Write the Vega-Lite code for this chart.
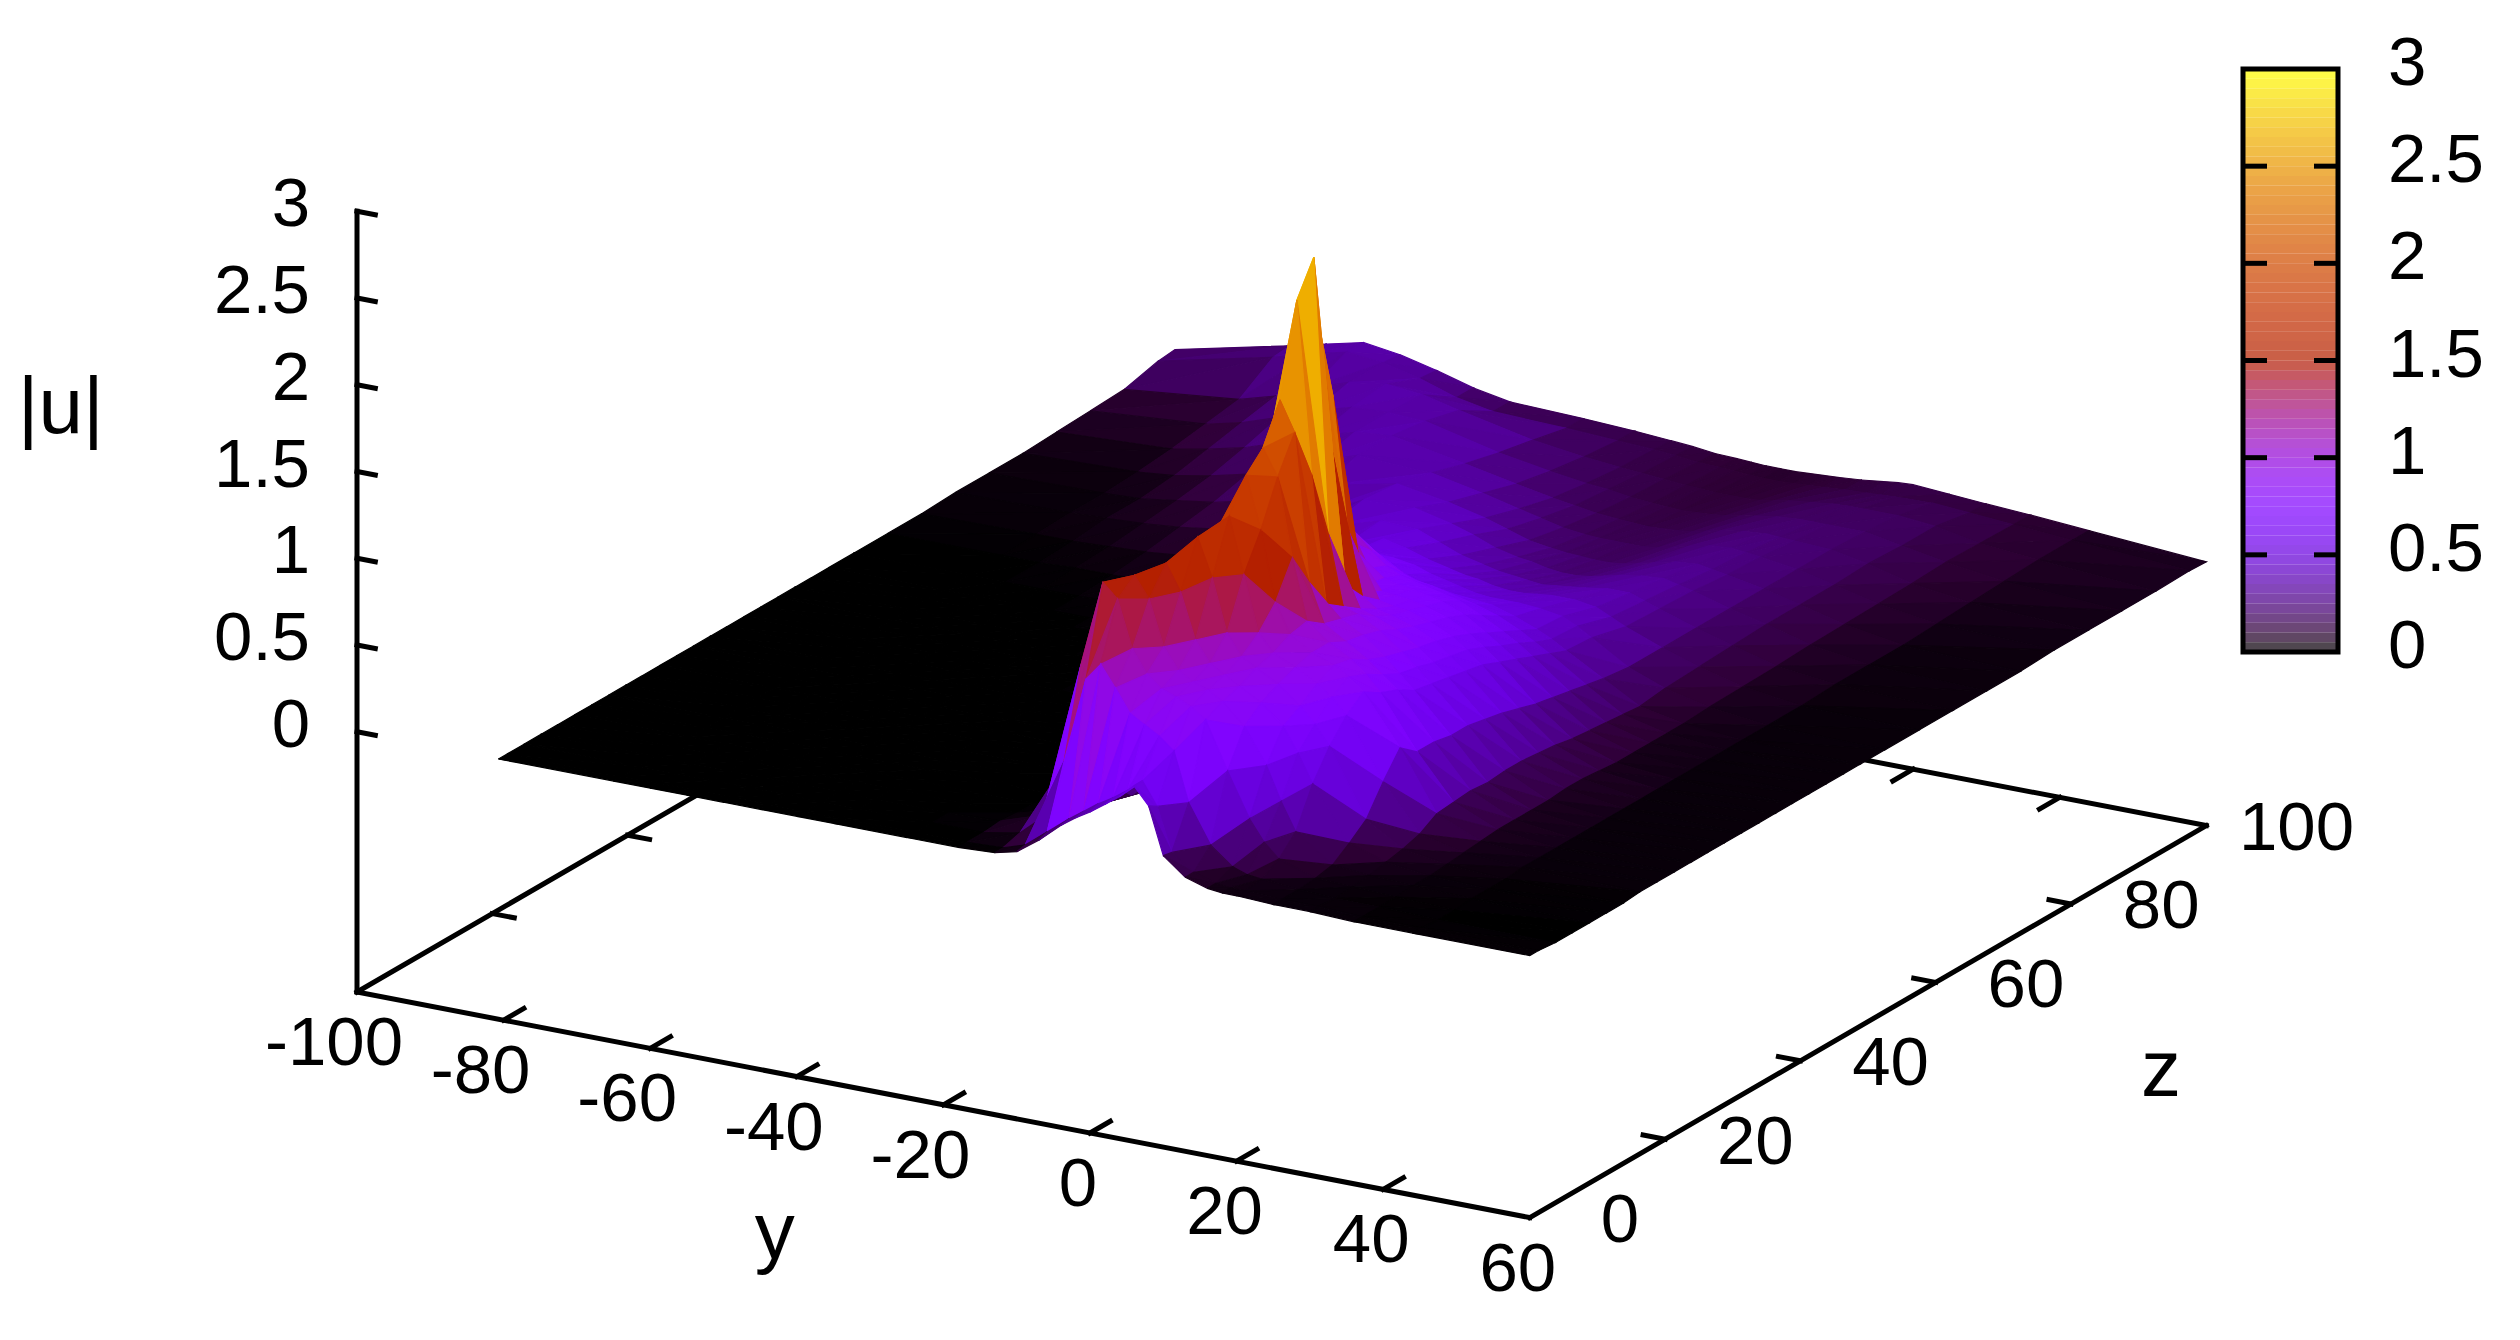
{"$schema":"https://vega.github.io/schema/vega-lite/v6.json","width":2520,"height":1340,"padding":0,"autosize":{"type":"fit","contains":"padding"},"background":"white","config":{"view":{"stroke":null}},
"datasets":{
"frame":[{"y":-100,"z":0,"u":-1.5,"y2":60,"z2":0,"u2":-1.5},{"y":60,"z":0,"u":-1.5,"y2":60,"z2":100,"u2":-1.5},{"y":60,"z":100,"u":-1.5,"y2":-100,"z2":100,"u2":-1.5},{"y":-100,"z":100,"u":-1.5,"y2":-100,"z2":0,"u2":-1.5},{"y":-100,"z":0,"u":-1.5,"y2":-100,"z2":0,"u2":3},
{"y":-80,"z":0,"u":-1.5,"y2":-80,"z2":3,"u2":-1.5},{"y":-60,"z":0,"u":-1.5,"y2":-60,"z2":3,"u2":-1.5},{"y":-40,"z":0,"u":-1.5,"y2":-40,"z2":3,"u2":-1.5},{"y":-20,"z":0,"u":-1.5,"y2":-20,"z2":3,"u2":-1.5},{"y":0,"z":0,"u":-1.5,"y2":0,"z2":3,"u2":-1.5},{"y":20,"z":0,"u":-1.5,"y2":20,"z2":3,"u2":-1.5},{"y":40,"z":0,"u":-1.5,"y2":40,"z2":3,"u2":-1.5},
{"y":-80,"z":100,"u":-1.5,"y2":-80,"z2":97,"u2":-1.5},{"y":-60,"z":100,"u":-1.5,"y2":-60,"z2":97,"u2":-1.5},{"y":-40,"z":100,"u":-1.5,"y2":-40,"z2":97,"u2":-1.5},{"y":-20,"z":100,"u":-1.5,"y2":-20,"z2":97,"u2":-1.5},{"y":0,"z":100,"u":-1.5,"y2":0,"z2":97,"u2":-1.5},{"y":20,"z":100,"u":-1.5,"y2":20,"z2":97,"u2":-1.5},{"y":40,"z":100,"u":-1.5,"y2":40,"z2":97,"u2":-1.5},
{"y":60,"z":20,"u":-1.5,"y2":57,"z2":20,"u2":-1.5},{"y":60,"z":40,"u":-1.5,"y2":57,"z2":40,"u2":-1.5},{"y":60,"z":60,"u":-1.5,"y2":57,"z2":60,"u2":-1.5},{"y":60,"z":80,"u":-1.5,"y2":57,"z2":80,"u2":-1.5},
{"y":-100,"z":20,"u":-1.5,"y2":-97,"z2":20,"u2":-1.5},{"y":-100,"z":40,"u":-1.5,"y2":-97,"z2":40,"u2":-1.5},{"y":-100,"z":60,"u":-1.5,"y2":-97,"z2":60,"u2":-1.5},{"y":-100,"z":80,"u":-1.5,"y2":-97,"z2":80,"u2":-1.5},
{"y":-100,"z":0,"u":0,"y2":-97.5,"z2":0,"u2":0},{"y":-100,"z":0,"u":0.5,"y2":-97.5,"z2":0,"u2":0.5},{"y":-100,"z":0,"u":1,"y2":-97.5,"z2":0,"u2":1},{"y":-100,"z":0,"u":1.5,"y2":-97.5,"z2":0,"u2":1.5},{"y":-100,"z":0,"u":2,"y2":-97.5,"z2":0,"u2":2},{"y":-100,"z":0,"u":2.5,"y2":-97.5,"z2":0,"u2":2.5},{"y":-100,"z":0,"u":3,"y2":-97.5,"z2":0,"u2":3}],
"surface":[
{"y":-80.7,"z":100,"u":0.1},{"y":-65,"z":100,"u":0.25},{"y":-60,"z":100,"u":0.3},{"y":-55,"z":100,"u":0.35},{"y":-50,"z":100,"u":0.32},{"y":-45,"z":100,"u":0.27},{"y":-40,"z":100,"u":0.21},{"y":-35,"z":100,"u":0.17},{"y":-25,"z":100,"u":0.155},{"y":-18,"z":100,"u":0.14},{"y":-13,"z":100,"u":0.125},{"y":-10,"z":100,"u":0.115},{"y":-7,"z":100,"u":0.1},{"y":-4,"z":100,"u":0.095},{"y":-2,"z":100,"u":0.09},{"y":0,"z":100,"u":0.085},{"y":2,"z":100,"u":0.085},{"y":4,"z":100,"u":0.085},{"y":6,"z":100,"u":0.09},{"y":8,"z":100,"u":0.095},{"y":10,"z":100,"u":0.1},{"y":13,"z":100,"u":0.11},{"y":16,"z":100,"u":0.125},{"y":18,"z":100,"u":0.135},{"y":20,"z":100,"u":0.14},{"y":25,"z":100,"u":0.125},{"y":30,"z":100,"u":0.11},{"y":36,"z":100,"u":0.095},{"y":44,"z":100,"u":0.07},{"y":60,"z":100,"u":0.02},
{"y":-80.7,"z":97.5,"u":0.09},{"y":-65,"z":97.5,"u":0.24},{"y":-60,"z":97.5,"u":0.3},{"y":-55,"z":97.5,"u":0.35},{"y":-50,"z":97.5,"u":0.33},{"y":-45,"z":97.5,"u":0.28},{"y":-40,"z":97.5,"u":0.21},{"y":-35,"z":97.5,"u":0.17},{"y":-25,"z":97.5,"u":0.155},{"y":-18,"z":97.5,"u":0.14},{"y":-13,"z":97.5,"u":0.13},{"y":-10,"z":97.5,"u":0.12},{"y":-7,"z":97.5,"u":0.105},{"y":-4,"z":97.5,"u":0.1},{"y":-2,"z":97.5,"u":0.095},{"y":0,"z":97.5,"u":0.09},{"y":2,"z":97.5,"u":0.085},{"y":4,"z":97.5,"u":0.085},{"y":6,"z":97.5,"u":0.09},{"y":8,"z":97.5,"u":0.095},{"y":10,"z":97.5,"u":0.1},{"y":13,"z":97.5,"u":0.11},{"y":16,"z":97.5,"u":0.115},{"y":18,"z":97.5,"u":0.12},{"y":20,"z":97.5,"u":0.125},{"y":25,"z":97.5,"u":0.13},{"y":30,"z":97.5,"u":0.115},{"y":36,"z":97.5,"u":0.095},{"y":44,"z":97.5,"u":0.07},{"y":60,"z":97.5,"u":0.025},
{"y":-80.7,"z":92.5,"u":0.04},{"y":-65,"z":92.5,"u":0.11},{"y":-60,"z":92.5,"u":0.17},{"y":-55,"z":92.5,"u":0.26},{"y":-50,"z":92.5,"u":0.33},{"y":-45,"z":92.5,"u":0.36},{"y":-40,"z":92.5,"u":0.34},{"y":-35,"z":92.5,"u":0.29},{"y":-25,"z":92.5,"u":0.2},{"y":-18,"z":92.5,"u":0.16},{"y":-13,"z":92.5,"u":0.14},{"y":-10,"z":92.5,"u":0.13},{"y":-7,"z":92.5,"u":0.12},{"y":-4,"z":92.5,"u":0.11},{"y":-2,"z":92.5,"u":0.105},{"y":0,"z":92.5,"u":0.1},{"y":2,"z":92.5,"u":0.1},{"y":4,"z":92.5,"u":0.1},{"y":6,"z":92.5,"u":0.105},{"y":8,"z":92.5,"u":0.12},{"y":10,"z":92.5,"u":0.135},{"y":13,"z":92.5,"u":0.15},{"y":16,"z":92.5,"u":0.165},{"y":18,"z":92.5,"u":0.17},{"y":20,"z":92.5,"u":0.17},{"y":25,"z":92.5,"u":0.17},{"y":30,"z":92.5,"u":0.15},{"y":36,"z":92.5,"u":0.1},{"y":44,"z":92.5,"u":0.07},{"y":60,"z":92.5,"u":0.02},
{"y":-80.7,"z":87.5,"u":0.03},{"y":-65,"z":87.5,"u":0.08},{"y":-60,"z":87.5,"u":0.13},{"y":-55,"z":87.5,"u":0.2},{"y":-50,"z":87.5,"u":0.28},{"y":-45,"z":87.5,"u":0.34},{"y":-40,"z":87.5,"u":0.35},{"y":-35,"z":87.5,"u":0.34},{"y":-25,"z":87.5,"u":0.24},{"y":-18,"z":87.5,"u":0.19},{"y":-13,"z":87.5,"u":0.16},{"y":-10,"z":87.5,"u":0.15},{"y":-7,"z":87.5,"u":0.13},{"y":-4,"z":87.5,"u":0.12},{"y":-2,"z":87.5,"u":0.115},{"y":0,"z":87.5,"u":0.11},{"y":2,"z":87.5,"u":0.115},{"y":4,"z":87.5,"u":0.12},{"y":6,"z":87.5,"u":0.13},{"y":8,"z":87.5,"u":0.145},{"y":10,"z":87.5,"u":0.16},{"y":13,"z":87.5,"u":0.18},{"y":16,"z":87.5,"u":0.19},{"y":18,"z":87.5,"u":0.19},{"y":20,"z":87.5,"u":0.19},{"y":25,"z":87.5,"u":0.19},{"y":30,"z":87.5,"u":0.15},{"y":36,"z":87.5,"u":0.105},{"y":44,"z":87.5,"u":0.06},{"y":60,"z":87.5,"u":0.02},
{"y":-80.7,"z":82.5,"u":0.02},{"y":-65,"z":82.5,"u":0.05},{"y":-60,"z":82.5,"u":0.09},{"y":-55,"z":82.5,"u":0.14},{"y":-50,"z":82.5,"u":0.21},{"y":-45,"z":82.5,"u":0.29},{"y":-40,"z":82.5,"u":0.35},{"y":-35,"z":82.5,"u":0.37},{"y":-25,"z":82.5,"u":0.29},{"y":-18,"z":82.5,"u":0.23},{"y":-13,"z":82.5,"u":0.19},{"y":-10,"z":82.5,"u":0.17},{"y":-7,"z":82.5,"u":0.15},{"y":-4,"z":82.5,"u":0.14},{"y":-2,"z":82.5,"u":0.135},{"y":0,"z":82.5,"u":0.13},{"y":2,"z":82.5,"u":0.135},{"y":4,"z":82.5,"u":0.14},{"y":6,"z":82.5,"u":0.15},{"y":8,"z":82.5,"u":0.17},{"y":10,"z":82.5,"u":0.19},{"y":13,"z":82.5,"u":0.21},{"y":16,"z":82.5,"u":0.22},{"y":18,"z":82.5,"u":0.215},{"y":20,"z":82.5,"u":0.21},{"y":25,"z":82.5,"u":0.2},{"y":30,"z":82.5,"u":0.16},{"y":36,"z":82.5,"u":0.095},{"y":44,"z":82.5,"u":0.05},{"y":60,"z":82.5,"u":0.02},
{"y":-80.7,"z":77.5,"u":0.01},{"y":-65,"z":77.5,"u":0.03},{"y":-60,"z":77.5,"u":0.05},{"y":-55,"z":77.5,"u":0.09},{"y":-50,"z":77.5,"u":0.14},{"y":-45,"z":77.5,"u":0.21},{"y":-40,"z":77.5,"u":0.3},{"y":-35,"z":77.5,"u":0.37},{"y":-25,"z":77.5,"u":0.35},{"y":-18,"z":77.5,"u":0.29},{"y":-13,"z":77.5,"u":0.24},{"y":-10,"z":77.5,"u":0.21},{"y":-7,"z":77.5,"u":0.18},{"y":-4,"z":77.5,"u":0.165},{"y":-2,"z":77.5,"u":0.16},{"y":0,"z":77.5,"u":0.16},{"y":2,"z":77.5,"u":0.16},{"y":4,"z":77.5,"u":0.16},{"y":6,"z":77.5,"u":0.17},{"y":8,"z":77.5,"u":0.19},{"y":10,"z":77.5,"u":0.21},{"y":13,"z":77.5,"u":0.24},{"y":16,"z":77.5,"u":0.25},{"y":18,"z":77.5,"u":0.24},{"y":20,"z":77.5,"u":0.23},{"y":25,"z":77.5,"u":0.2},{"y":30,"z":77.5,"u":0.15},{"y":36,"z":77.5,"u":0.09},{"y":44,"z":77.5,"u":0.04},{"y":60,"z":77.5,"u":0.02},
{"y":-80.7,"z":72.5,"u":0.01},{"y":-65,"z":72.5,"u":0.02},{"y":-60,"z":72.5,"u":0.03},{"y":-55,"z":72.5,"u":0.06},{"y":-50,"z":72.5,"u":0.09},{"y":-45,"z":72.5,"u":0.14},{"y":-40,"z":72.5,"u":0.22},{"y":-35,"z":72.5,"u":0.31},{"y":-25,"z":72.5,"u":0.4},{"y":-18,"z":72.5,"u":0.35},{"y":-13,"z":72.5,"u":0.3},{"y":-10,"z":72.5,"u":0.26},{"y":-7,"z":72.5,"u":0.22},{"y":-4,"z":72.5,"u":0.2},{"y":-2,"z":72.5,"u":0.19},{"y":0,"z":72.5,"u":0.185},{"y":2,"z":72.5,"u":0.18},{"y":4,"z":72.5,"u":0.18},{"y":6,"z":72.5,"u":0.19},{"y":8,"z":72.5,"u":0.21},{"y":10,"z":72.5,"u":0.23},{"y":13,"z":72.5,"u":0.26},{"y":16,"z":72.5,"u":0.27},{"y":18,"z":72.5,"u":0.255},{"y":20,"z":72.5,"u":0.24},{"y":25,"z":72.5,"u":0.2},{"y":30,"z":72.5,"u":0.15},{"y":36,"z":72.5,"u":0.085},{"y":44,"z":72.5,"u":0.03},{"y":60,"z":72.5,"u":0.01},
{"y":-80.7,"z":67.5,"u":0.01},{"y":-65,"z":67.5,"u":0.02},{"y":-60,"z":67.5,"u":0.03},{"y":-55,"z":67.5,"u":0.04},{"y":-50,"z":67.5,"u":0.06},{"y":-45,"z":67.5,"u":0.09},{"y":-40,"z":67.5,"u":0.14},{"y":-35,"z":67.5,"u":0.22},{"y":-25,"z":67.5,"u":0.42},{"y":-18,"z":67.5,"u":0.43},{"y":-13,"z":67.5,"u":0.38},{"y":-10,"z":67.5,"u":0.34},{"y":-7,"z":67.5,"u":0.29},{"y":-4,"z":67.5,"u":0.26},{"y":-2,"z":67.5,"u":0.25},{"y":0,"z":67.5,"u":0.23},{"y":2,"z":67.5,"u":0.22},{"y":4,"z":67.5,"u":0.22},{"y":6,"z":67.5,"u":0.23},{"y":8,"z":67.5,"u":0.25},{"y":10,"z":67.5,"u":0.27},{"y":13,"z":67.5,"u":0.29},{"y":16,"z":67.5,"u":0.3},{"y":18,"z":67.5,"u":0.28},{"y":20,"z":67.5,"u":0.26},{"y":25,"z":67.5,"u":0.2},{"y":30,"z":67.5,"u":0.15},{"y":36,"z":67.5,"u":0.08},{"y":44,"z":67.5,"u":0.03},{"y":60,"z":67.5,"u":0.01},
{"y":-80.7,"z":62.5,"u":0},{"y":-65,"z":62.5,"u":0.01},{"y":-60,"z":62.5,"u":0.01},{"y":-55,"z":62.5,"u":0.02},{"y":-50,"z":62.5,"u":0.03},{"y":-45,"z":62.5,"u":0.05},{"y":-40,"z":62.5,"u":0.09},{"y":-35,"z":62.5,"u":0.14},{"y":-25,"z":62.5,"u":0.38},{"y":-18,"z":62.5,"u":0.47},{"y":-13,"z":62.5,"u":0.46},{"y":-10,"z":62.5,"u":0.41},{"y":-7,"z":62.5,"u":0.36},{"y":-4,"z":62.5,"u":0.33},{"y":-2,"z":62.5,"u":0.31},{"y":0,"z":62.5,"u":0.3},{"y":2,"z":62.5,"u":0.29},{"y":4,"z":62.5,"u":0.28},{"y":6,"z":62.5,"u":0.29},{"y":8,"z":62.5,"u":0.3},{"y":10,"z":62.5,"u":0.31},{"y":13,"z":62.5,"u":0.33},{"y":16,"z":62.5,"u":0.33},{"y":18,"z":62.5,"u":0.3},{"y":20,"z":62.5,"u":0.27},{"y":25,"z":62.5,"u":0.2},{"y":30,"z":62.5,"u":0.14},{"y":36,"z":62.5,"u":0.07},{"y":44,"z":62.5,"u":0.03},{"y":60,"z":62.5,"u":0.01},
{"y":-80.7,"z":57.5,"u":0},{"y":-65,"z":57.5,"u":0},{"y":-60,"z":57.5,"u":0},{"y":-55,"z":57.5,"u":0.01},{"y":-50,"z":57.5,"u":0.01},{"y":-45,"z":57.5,"u":0.02},{"y":-40,"z":57.5,"u":0.05},{"y":-35,"z":57.5,"u":0.08},{"y":-25,"z":57.5,"u":0.28},{"y":-18,"z":57.5,"u":0.45},{"y":-13,"z":57.5,"u":0.52},{"y":-10,"z":57.5,"u":0.49},{"y":-7,"z":57.5,"u":0.45},{"y":-4,"z":57.5,"u":0.42},{"y":-2,"z":57.5,"u":0.4},{"y":0,"z":57.5,"u":0.39},{"y":2,"z":57.5,"u":0.37},{"y":4,"z":57.5,"u":0.36},{"y":6,"z":57.5,"u":0.36},{"y":8,"z":57.5,"u":0.37},{"y":10,"z":57.5,"u":0.38},{"y":13,"z":57.5,"u":0.38},{"y":16,"z":57.5,"u":0.36},{"y":18,"z":57.5,"u":0.32},{"y":20,"z":57.5,"u":0.28},{"y":25,"z":57.5,"u":0.2},{"y":30,"z":57.5,"u":0.13},{"y":36,"z":57.5,"u":0.065},{"y":44,"z":57.5,"u":0.02},{"y":60,"z":57.5,"u":0.01},
{"y":-80.7,"z":52.5,"u":0},{"y":-65,"z":52.5,"u":0},{"y":-60,"z":52.5,"u":0},{"y":-55,"z":52.5,"u":0},{"y":-50,"z":52.5,"u":0},{"y":-45,"z":52.5,"u":0.01},{"y":-40,"z":52.5,"u":0.02},{"y":-35,"z":52.5,"u":0.04},{"y":-25,"z":52.5,"u":0.18},{"y":-18,"z":52.5,"u":0.38},{"y":-13,"z":52.5,"u":0.55},{"y":-10,"z":52.5,"u":0.58},{"y":-7,"z":52.5,"u":0.57},{"y":-4,"z":52.5,"u":0.55},{"y":-2,"z":52.5,"u":0.52},{"y":0,"z":52.5,"u":0.5},{"y":2,"z":52.5,"u":0.48},{"y":4,"z":52.5,"u":0.46},{"y":6,"z":52.5,"u":0.45},{"y":8,"z":52.5,"u":0.45},{"y":10,"z":52.5,"u":0.45},{"y":13,"z":52.5,"u":0.44},{"y":16,"z":52.5,"u":0.42},{"y":18,"z":52.5,"u":0.38},{"y":20,"z":52.5,"u":0.33},{"y":25,"z":52.5,"u":0.2},{"y":30,"z":52.5,"u":0.12},{"y":36,"z":52.5,"u":0.06},{"y":44,"z":52.5,"u":0.02},{"y":60,"z":52.5,"u":0.01},
{"y":-80.7,"z":48.75,"u":0},{"y":-65,"z":48.75,"u":0},{"y":-60,"z":48.75,"u":0},{"y":-55,"z":48.75,"u":0},{"y":-50,"z":48.75,"u":0},{"y":-45,"z":48.75,"u":0},{"y":-40,"z":48.75,"u":0.01},{"y":-35,"z":48.75,"u":0.02},{"y":-25,"z":48.75,"u":0.08},{"y":-18,"z":48.75,"u":0.2},{"y":-13,"z":48.75,"u":0.42},{"y":-10,"z":48.75,"u":0.62},{"y":-7,"z":48.75,"u":0.68},{"y":-4,"z":48.75,"u":0.65},{"y":-2,"z":48.75,"u":0.6},{"y":0,"z":48.75,"u":0.57},{"y":2,"z":48.75,"u":0.55},{"y":4,"z":48.75,"u":0.54},{"y":6,"z":48.75,"u":0.53},{"y":8,"z":48.75,"u":0.53},{"y":10,"z":48.75,"u":0.52},{"y":13,"z":48.75,"u":0.48},{"y":16,"z":48.75,"u":0.43},{"y":18,"z":48.75,"u":0.39},{"y":20,"z":48.75,"u":0.34},{"y":25,"z":48.75,"u":0.22},{"y":30,"z":48.75,"u":0.1},{"y":36,"z":48.75,"u":0.05},{"y":44,"z":48.75,"u":0.02},{"y":60,"z":48.75,"u":0.01},
{"y":-80.7,"z":46.25,"u":0},{"y":-65,"z":46.25,"u":0},{"y":-60,"z":46.25,"u":0},{"y":-55,"z":46.25,"u":0},{"y":-50,"z":46.25,"u":0},{"y":-45,"z":46.25,"u":0},{"y":-40,"z":46.25,"u":0},{"y":-35,"z":46.25,"u":0.01},{"y":-25,"z":46.25,"u":0.05},{"y":-18,"z":46.25,"u":0.12},{"y":-13,"z":46.25,"u":0.3},{"y":-10,"z":46.25,"u":0.55},{"y":-7,"z":46.25,"u":0.8},{"y":-4,"z":46.25,"u":0.78},{"y":-2,"z":46.25,"u":0.72},{"y":0,"z":46.25,"u":0.68},{"y":2,"z":46.25,"u":0.65},{"y":4,"z":46.25,"u":0.64},{"y":6,"z":46.25,"u":0.62},{"y":8,"z":46.25,"u":0.6},{"y":10,"z":46.25,"u":0.58},{"y":13,"z":46.25,"u":0.54},{"y":16,"z":46.25,"u":0.48},{"y":18,"z":46.25,"u":0.43},{"y":20,"z":46.25,"u":0.38},{"y":25,"z":46.25,"u":0.24},{"y":30,"z":46.25,"u":0.11},{"y":36,"z":46.25,"u":0.05},{"y":44,"z":46.25,"u":0.02},{"y":60,"z":46.25,"u":0.01},
{"y":-80.7,"z":43.75,"u":0},{"y":-65,"z":43.75,"u":0},{"y":-60,"z":43.75,"u":0},{"y":-55,"z":43.75,"u":0},{"y":-50,"z":43.75,"u":0},{"y":-45,"z":43.75,"u":0},{"y":-40,"z":43.75,"u":0},{"y":-35,"z":43.75,"u":0.01},{"y":-25,"z":43.75,"u":0.03},{"y":-18,"z":43.75,"u":0.08},{"y":-13,"z":43.75,"u":0.22},{"y":-10,"z":43.75,"u":0.45},{"y":-7,"z":43.75,"u":0.82},{"y":-4,"z":43.75,"u":0.93},{"y":-2,"z":43.75,"u":0.85},{"y":0,"z":43.75,"u":0.78},{"y":2,"z":43.75,"u":0.74},{"y":4,"z":43.75,"u":0.72},{"y":6,"z":43.75,"u":0.7},{"y":8,"z":43.75,"u":0.68},{"y":10,"z":43.75,"u":0.66},{"y":13,"z":43.75,"u":0.6},{"y":16,"z":43.75,"u":0.53},{"y":18,"z":43.75,"u":0.48},{"y":20,"z":43.75,"u":0.42},{"y":25,"z":43.75,"u":0.26},{"y":30,"z":43.75,"u":0.12},{"y":36,"z":43.75,"u":0.05},{"y":44,"z":43.75,"u":0.02},{"y":60,"z":43.75,"u":0.01},
{"y":-80.7,"z":41.25,"u":0},{"y":-65,"z":41.25,"u":0},{"y":-60,"z":41.25,"u":0},{"y":-55,"z":41.25,"u":0},{"y":-50,"z":41.25,"u":0},{"y":-45,"z":41.25,"u":0},{"y":-40,"z":41.25,"u":0},{"y":-35,"z":41.25,"u":0},{"y":-25,"z":41.25,"u":0.02},{"y":-18,"z":41.25,"u":0.05},{"y":-13,"z":41.25,"u":0.15},{"y":-10,"z":41.25,"u":0.32},{"y":-7,"z":41.25,"u":0.7},{"y":-4,"z":41.25,"u":1.09},{"y":-2,"z":41.25,"u":0.95},{"y":0,"z":41.25,"u":0.82},{"y":2,"z":41.25,"u":0.78},{"y":4,"z":41.25,"u":0.76},{"y":6,"z":41.25,"u":0.75},{"y":8,"z":41.25,"u":0.73},{"y":10,"z":41.25,"u":0.71},{"y":13,"z":41.25,"u":0.66},{"y":16,"z":41.25,"u":0.58},{"y":18,"z":41.25,"u":0.52},{"y":20,"z":41.25,"u":0.46},{"y":25,"z":41.25,"u":0.28},{"y":30,"z":41.25,"u":0.13},{"y":36,"z":41.25,"u":0.05},{"y":44,"z":41.25,"u":0.02},{"y":60,"z":41.25,"u":0.01},
{"y":-80.7,"z":38.75,"u":0},{"y":-65,"z":38.75,"u":0},{"y":-60,"z":38.75,"u":0},{"y":-55,"z":38.75,"u":0},{"y":-50,"z":38.75,"u":0},{"y":-45,"z":38.75,"u":0},{"y":-40,"z":38.75,"u":0},{"y":-35,"z":38.75,"u":0},{"y":-25,"z":38.75,"u":0.01},{"y":-18,"z":38.75,"u":0.04},{"y":-13,"z":38.75,"u":0.1},{"y":-10,"z":38.75,"u":0.2},{"y":-7,"z":38.75,"u":0.5},{"y":-4,"z":38.75,"u":1},{"y":-2,"z":38.75,"u":1.25},{"y":0,"z":38.75,"u":1},{"y":2,"z":38.75,"u":0.8},{"y":4,"z":38.75,"u":0.78},{"y":6,"z":38.75,"u":0.77},{"y":8,"z":38.75,"u":0.76},{"y":10,"z":38.75,"u":0.74},{"y":13,"z":38.75,"u":0.7},{"y":16,"z":38.75,"u":0.63},{"y":18,"z":38.75,"u":0.57},{"y":20,"z":38.75,"u":0.5},{"y":25,"z":38.75,"u":0.3},{"y":30,"z":38.75,"u":0.14},{"y":36,"z":38.75,"u":0.05},{"y":44,"z":38.75,"u":0.02},{"y":60,"z":38.75,"u":0.01},
{"y":-80.7,"z":36.25,"u":0},{"y":-65,"z":36.25,"u":0},{"y":-60,"z":36.25,"u":0},{"y":-55,"z":36.25,"u":0},{"y":-50,"z":36.25,"u":0},{"y":-45,"z":36.25,"u":0},{"y":-40,"z":36.25,"u":0},{"y":-35,"z":36.25,"u":0},{"y":-25,"z":36.25,"u":0.01},{"y":-18,"z":36.25,"u":0.02},{"y":-13,"z":36.25,"u":0.07},{"y":-10,"z":36.25,"u":0.14},{"y":-7,"z":36.25,"u":0.3},{"y":-4,"z":36.25,"u":0.7},{"y":-2,"z":36.25,"u":1.15},{"y":0,"z":36.25,"u":1.44},{"y":2,"z":36.25,"u":1.1},{"y":4,"z":36.25,"u":0.82},{"y":6,"z":36.25,"u":0.8},{"y":8,"z":36.25,"u":0.78},{"y":10,"z":36.25,"u":0.77},{"y":13,"z":36.25,"u":0.73},{"y":16,"z":36.25,"u":0.67},{"y":18,"z":36.25,"u":0.61},{"y":20,"z":36.25,"u":0.54},{"y":25,"z":36.25,"u":0.33},{"y":30,"z":36.25,"u":0.16},{"y":36,"z":36.25,"u":0.06},{"y":44,"z":36.25,"u":0.02},{"y":60,"z":36.25,"u":0.01},
{"y":-80.7,"z":33.75,"u":0},{"y":-65,"z":33.75,"u":0},{"y":-60,"z":33.75,"u":0},{"y":-55,"z":33.75,"u":0},{"y":-50,"z":33.75,"u":0},{"y":-45,"z":33.75,"u":0},{"y":-40,"z":33.75,"u":0},{"y":-35,"z":33.75,"u":0},{"y":-25,"z":33.75,"u":0},{"y":-18,"z":33.75,"u":0.02},{"y":-13,"z":33.75,"u":0.05},{"y":-10,"z":33.75,"u":0.1},{"y":-7,"z":33.75,"u":0.2},{"y":-4,"z":33.75,"u":0.55},{"y":-2,"z":33.75,"u":1.15},{"y":0,"z":33.75,"u":1.85},{"y":2,"z":33.75,"u":2},{"y":4,"z":33.75,"u":1.25},{"y":6,"z":33.75,"u":0.88},{"y":8,"z":33.75,"u":0.82},{"y":10,"z":33.75,"u":0.8},{"y":13,"z":33.75,"u":0.76},{"y":16,"z":33.75,"u":0.7},{"y":18,"z":33.75,"u":0.63},{"y":20,"z":33.75,"u":0.56},{"y":25,"z":33.75,"u":0.36},{"y":30,"z":33.75,"u":0.17},{"y":36,"z":33.75,"u":0.07},{"y":44,"z":33.75,"u":0.02},{"y":60,"z":33.75,"u":0.01},
{"y":-80.7,"z":31.25,"u":0},{"y":-65,"z":31.25,"u":0},{"y":-60,"z":31.25,"u":0},{"y":-55,"z":31.25,"u":0},{"y":-50,"z":31.25,"u":0},{"y":-45,"z":31.25,"u":0},{"y":-40,"z":31.25,"u":0},{"y":-35,"z":31.25,"u":0},{"y":-25,"z":31.25,"u":0},{"y":-18,"z":31.25,"u":0.01},{"y":-13,"z":31.25,"u":0.04},{"y":-10,"z":31.25,"u":0.08},{"y":-7,"z":31.25,"u":0.15},{"y":-4,"z":31.25,"u":0.38},{"y":-2,"z":31.25,"u":0.85},{"y":0,"z":31.25,"u":1.7},{"y":2,"z":31.25,"u":2.55},{"y":4,"z":31.25,"u":1.8},{"y":6,"z":31.25,"u":1},{"y":8,"z":31.25,"u":0.88},{"y":10,"z":31.25,"u":0.85},{"y":13,"z":31.25,"u":0.8},{"y":16,"z":31.25,"u":0.72},{"y":18,"z":31.25,"u":0.65},{"y":20,"z":31.25,"u":0.58},{"y":25,"z":31.25,"u":0.38},{"y":30,"z":31.25,"u":0.18},{"y":36,"z":31.25,"u":0.07},{"y":44,"z":31.25,"u":0.02},{"y":60,"z":31.25,"u":0.01},
{"y":-80.7,"z":28.75,"u":0},{"y":-65,"z":28.75,"u":0},{"y":-60,"z":28.75,"u":0},{"y":-55,"z":28.75,"u":0},{"y":-50,"z":28.75,"u":0},{"y":-45,"z":28.75,"u":0},{"y":-40,"z":28.75,"u":0},{"y":-35,"z":28.75,"u":0},{"y":-25,"z":28.75,"u":0},{"y":-18,"z":28.75,"u":0.01},{"y":-13,"z":28.75,"u":0.03},{"y":-10,"z":28.75,"u":0.06},{"y":-7,"z":28.75,"u":0.12},{"y":-4,"z":28.75,"u":0.3},{"y":-2,"z":28.75,"u":0.6},{"y":0,"z":28.75,"u":1.3},{"y":2,"z":28.75,"u":2.4},{"y":4,"z":28.75,"u":2.93},{"y":6,"z":28.75,"u":1.35},{"y":8,"z":28.75,"u":0.95},{"y":10,"z":28.75,"u":0.92},{"y":13,"z":28.75,"u":0.85},{"y":16,"z":28.75,"u":0.75},{"y":18,"z":28.75,"u":0.68},{"y":20,"z":28.75,"u":0.6},{"y":25,"z":28.75,"u":0.4},{"y":30,"z":28.75,"u":0.18},{"y":36,"z":28.75,"u":0.06},{"y":44,"z":28.75,"u":0.02},{"y":60,"z":28.75,"u":0.01},
{"y":-80.7,"z":26.25,"u":0},{"y":-65,"z":26.25,"u":0},{"y":-60,"z":26.25,"u":0},{"y":-55,"z":26.25,"u":0},{"y":-50,"z":26.25,"u":0},{"y":-45,"z":26.25,"u":0},{"y":-40,"z":26.25,"u":0},{"y":-35,"z":26.25,"u":0},{"y":-25,"z":26.25,"u":0},{"y":-18,"z":26.25,"u":0},{"y":-13,"z":26.25,"u":0.02},{"y":-10,"z":26.25,"u":0.05},{"y":-7,"z":26.25,"u":0.1},{"y":-4,"z":26.25,"u":0.22},{"y":-2,"z":26.25,"u":0.5},{"y":0,"z":26.25,"u":1.05},{"y":2,"z":26.25,"u":2},{"y":4,"z":26.25,"u":2.74},{"y":6,"z":26.25,"u":1.75},{"y":8,"z":26.25,"u":1.02},{"y":10,"z":26.25,"u":0.95},{"y":13,"z":26.25,"u":0.88},{"y":16,"z":26.25,"u":0.78},{"y":18,"z":26.25,"u":0.7},{"y":20,"z":26.25,"u":0.62},{"y":25,"z":26.25,"u":0.4},{"y":30,"z":26.25,"u":0.17},{"y":36,"z":26.25,"u":0.06},{"y":44,"z":26.25,"u":0.02},{"y":60,"z":26.25,"u":0.01},
{"y":-80.7,"z":23.75,"u":0},{"y":-65,"z":23.75,"u":0},{"y":-60,"z":23.75,"u":0},{"y":-55,"z":23.75,"u":0},{"y":-50,"z":23.75,"u":0},{"y":-45,"z":23.75,"u":0},{"y":-40,"z":23.75,"u":0},{"y":-35,"z":23.75,"u":0},{"y":-25,"z":23.75,"u":0},{"y":-18,"z":23.75,"u":0},{"y":-13,"z":23.75,"u":0.01},{"y":-10,"z":23.75,"u":0.03},{"y":-7,"z":23.75,"u":0.08},{"y":-4,"z":23.75,"u":0.22},{"y":-2,"z":23.75,"u":0.5},{"y":0,"z":23.75,"u":1},{"y":2,"z":23.75,"u":1.85},{"y":4,"z":23.75,"u":2.22},{"y":6,"z":23.75,"u":2.05},{"y":8,"z":23.75,"u":1.2},{"y":10,"z":23.75,"u":0.98},{"y":13,"z":23.75,"u":0.9},{"y":16,"z":23.75,"u":0.82},{"y":18,"z":23.75,"u":0.75},{"y":20,"z":23.75,"u":0.68},{"y":25,"z":23.75,"u":0.42},{"y":30,"z":23.75,"u":0.18},{"y":36,"z":23.75,"u":0.06},{"y":44,"z":23.75,"u":0.02},{"y":60,"z":23.75,"u":0.01},
{"y":-80.7,"z":21.25,"u":0},{"y":-65,"z":21.25,"u":0},{"y":-60,"z":21.25,"u":0},{"y":-55,"z":21.25,"u":0},{"y":-50,"z":21.25,"u":0},{"y":-45,"z":21.25,"u":0},{"y":-40,"z":21.25,"u":0},{"y":-35,"z":21.25,"u":0},{"y":-25,"z":21.25,"u":0},{"y":-18,"z":21.25,"u":0},{"y":-13,"z":21.25,"u":0.01},{"y":-10,"z":21.25,"u":0.02},{"y":-7,"z":21.25,"u":0.06},{"y":-4,"z":21.25,"u":0.2},{"y":-2,"z":21.25,"u":0.45},{"y":0,"z":21.25,"u":1},{"y":2,"z":21.25,"u":1.75},{"y":4,"z":21.25,"u":2},{"y":6,"z":21.25,"u":1.85},{"y":8,"z":21.25,"u":1.4},{"y":10,"z":21.25,"u":1.05},{"y":13,"z":21.25,"u":0.95},{"y":16,"z":21.25,"u":0.88},{"y":18,"z":21.25,"u":0.81},{"y":20,"z":21.25,"u":0.72},{"y":25,"z":21.25,"u":0.42},{"y":30,"z":21.25,"u":0.17},{"y":36,"z":21.25,"u":0.06},{"y":44,"z":21.25,"u":0.02},{"y":60,"z":21.25,"u":0.01},
{"y":-80.7,"z":18.75,"u":0},{"y":-65,"z":18.75,"u":0},{"y":-60,"z":18.75,"u":0},{"y":-55,"z":18.75,"u":0},{"y":-50,"z":18.75,"u":0},{"y":-45,"z":18.75,"u":0},{"y":-40,"z":18.75,"u":0},{"y":-35,"z":18.75,"u":0},{"y":-25,"z":18.75,"u":0},{"y":-18,"z":18.75,"u":0},{"y":-13,"z":18.75,"u":0.01},{"y":-10,"z":18.75,"u":0.02},{"y":-7,"z":18.75,"u":0.05},{"y":-4,"z":18.75,"u":0.18},{"y":-2,"z":18.75,"u":0.42},{"y":0,"z":18.75,"u":1.05},{"y":2,"z":18.75,"u":1.7},{"y":4,"z":18.75,"u":1.9},{"y":6,"z":18.75,"u":1.6},{"y":8,"z":18.75,"u":1.2},{"y":10,"z":18.75,"u":1.03},{"y":13,"z":18.75,"u":0.95},{"y":16,"z":18.75,"u":0.9},{"y":18,"z":18.75,"u":0.85},{"y":20,"z":18.75,"u":0.78},{"y":25,"z":18.75,"u":0.5},{"y":30,"z":18.75,"u":0.16},{"y":36,"z":18.75,"u":0.05},{"y":44,"z":18.75,"u":0.02},{"y":60,"z":18.75,"u":0.01},
{"y":-80.7,"z":16.25,"u":0},{"y":-65,"z":16.25,"u":0},{"y":-60,"z":16.25,"u":0},{"y":-55,"z":16.25,"u":0},{"y":-50,"z":16.25,"u":0},{"y":-45,"z":16.25,"u":0},{"y":-40,"z":16.25,"u":0},{"y":-35,"z":16.25,"u":0},{"y":-25,"z":16.25,"u":0},{"y":-18,"z":16.25,"u":0},{"y":-13,"z":16.25,"u":0},{"y":-10,"z":16.25,"u":0.01},{"y":-7,"z":16.25,"u":0.05},{"y":-4,"z":16.25,"u":0.2},{"y":-2,"z":16.25,"u":0.55},{"y":0,"z":16.25,"u":1.2},{"y":2,"z":16.25,"u":1.6},{"y":4,"z":16.25,"u":1.72},{"y":6,"z":16.25,"u":1.4},{"y":8,"z":16.25,"u":1.08},{"y":10,"z":16.25,"u":0.98},{"y":13,"z":16.25,"u":0.92},{"y":16,"z":16.25,"u":0.85},{"y":18,"z":16.25,"u":0.79},{"y":20,"z":16.25,"u":0.7},{"y":25,"z":16.25,"u":0.36},{"y":30,"z":16.25,"u":0.1},{"y":36,"z":16.25,"u":0.04},{"y":44,"z":16.25,"u":0.02},{"y":60,"z":16.25,"u":0.01},
{"y":-80.7,"z":13.75,"u":0},{"y":-65,"z":13.75,"u":0},{"y":-60,"z":13.75,"u":0},{"y":-55,"z":13.75,"u":0},{"y":-50,"z":13.75,"u":0},{"y":-45,"z":13.75,"u":0},{"y":-40,"z":13.75,"u":0},{"y":-35,"z":13.75,"u":0},{"y":-25,"z":13.75,"u":0},{"y":-18,"z":13.75,"u":0},{"y":-13,"z":13.75,"u":0},{"y":-10,"z":13.75,"u":0.02},{"y":-7,"z":13.75,"u":0.08},{"y":-4,"z":13.75,"u":0.33},{"y":-2,"z":13.75,"u":0.85},{"y":0,"z":13.75,"u":1.45},{"y":2,"z":13.75,"u":1.64},{"y":4,"z":13.75,"u":1.42},{"y":6,"z":13.75,"u":1.12},{"y":8,"z":13.75,"u":1},{"y":10,"z":13.75,"u":0.95},{"y":13,"z":13.75,"u":0.88},{"y":16,"z":13.75,"u":0.78},{"y":18,"z":13.75,"u":0.69},{"y":20,"z":13.75,"u":0.58},{"y":25,"z":13.75,"u":0.2},{"y":30,"z":13.75,"u":0.07},{"y":36,"z":13.75,"u":0.03},{"y":44,"z":13.75,"u":0.01},{"y":60,"z":13.75,"u":0},
{"y":-80.7,"z":11.25,"u":0},{"y":-65,"z":11.25,"u":0},{"y":-60,"z":11.25,"u":0},{"y":-55,"z":11.25,"u":0},{"y":-50,"z":11.25,"u":0},{"y":-45,"z":11.25,"u":0},{"y":-40,"z":11.25,"u":0},{"y":-35,"z":11.25,"u":0},{"y":-25,"z":11.25,"u":0},{"y":-18,"z":11.25,"u":0},{"y":-13,"z":11.25,"u":0.01},{"y":-10,"z":11.25,"u":0.05},{"y":-7,"z":11.25,"u":0.18},{"y":-4,"z":11.25,"u":0.7},{"y":-2,"z":11.25,"u":1.3},{"y":0,"z":11.25,"u":1.53},{"y":2,"z":11.25,"u":1.38},{"y":4,"z":11.25,"u":1.12},{"y":6,"z":11.25,"u":1},{"y":8,"z":11.25,"u":0.95},{"y":10,"z":11.25,"u":0.9},{"y":13,"z":11.25,"u":0.83},{"y":16,"z":11.25,"u":0.72},{"y":18,"z":11.25,"u":0.58},{"y":20,"z":11.25,"u":0.42},{"y":25,"z":11.25,"u":0.12},{"y":30,"z":11.25,"u":0.05},{"y":36,"z":11.25,"u":0.02},{"y":44,"z":11.25,"u":0.01},{"y":60,"z":11.25,"u":0},
{"y":-80.7,"z":8.75,"u":0},{"y":-65,"z":8.75,"u":0},{"y":-60,"z":8.75,"u":0},{"y":-55,"z":8.75,"u":0},{"y":-50,"z":8.75,"u":0},{"y":-45,"z":8.75,"u":0},{"y":-40,"z":8.75,"u":0},{"y":-35,"z":8.75,"u":0},{"y":-25,"z":8.75,"u":0},{"y":-18,"z":8.75,"u":0},{"y":-13,"z":8.75,"u":0.03},{"y":-10,"z":8.75,"u":0.12},{"y":-7,"z":8.75,"u":0.45},{"y":-4,"z":8.75,"u":1.25},{"y":-2,"z":8.75,"u":1.5},{"y":0,"z":8.75,"u":1.38},{"y":2,"z":8.75,"u":1.12},{"y":4,"z":8.75,"u":1},{"y":6,"z":8.75,"u":0.95},{"y":8,"z":8.75,"u":0.92},{"y":10,"z":8.75,"u":0.87},{"y":13,"z":8.75,"u":0.75},{"y":16,"z":8.75,"u":0.55},{"y":18,"z":8.75,"u":0.36},{"y":20,"z":8.75,"u":0.2},{"y":25,"z":8.75,"u":0.05},{"y":30,"z":8.75,"u":0.03},{"y":36,"z":8.75,"u":0.02},{"y":44,"z":8.75,"u":0.01},{"y":60,"z":8.75,"u":0},
{"y":-80.7,"z":6.25,"u":0},{"y":-65,"z":6.25,"u":0},{"y":-60,"z":6.25,"u":0},{"y":-55,"z":6.25,"u":0},{"y":-50,"z":6.25,"u":0},{"y":-45,"z":6.25,"u":0},{"y":-40,"z":6.25,"u":0},{"y":-35,"z":6.25,"u":0},{"y":-25,"z":6.25,"u":0},{"y":-18,"z":6.25,"u":0.01},{"y":-13,"z":6.25,"u":0.08},{"y":-10,"z":6.25,"u":0.35},{"y":-7,"z":6.25,"u":1},{"y":-4,"z":6.25,"u":1.5},{"y":-2,"z":6.25,"u":1.42},{"y":0,"z":6.25,"u":1.15},{"y":2,"z":6.25,"u":1.02},{"y":4,"z":6.25,"u":0.95},{"y":6,"z":6.25,"u":0.92},{"y":8,"z":6.25,"u":0.88},{"y":10,"z":6.25,"u":0.82},{"y":13,"z":6.25,"u":0.55},{"y":16,"z":6.25,"u":0.3},{"y":18,"z":6.25,"u":0.18},{"y":20,"z":6.25,"u":0.1},{"y":25,"z":6.25,"u":0.03},{"y":30,"z":6.25,"u":0.02},{"y":36,"z":6.25,"u":0.01},{"y":44,"z":6.25,"u":0},{"y":60,"z":6.25,"u":0},
{"y":-80.7,"z":3.75,"u":0},{"y":-65,"z":3.75,"u":0},{"y":-60,"z":3.75,"u":0},{"y":-55,"z":3.75,"u":0},{"y":-50,"z":3.75,"u":0},{"y":-45,"z":3.75,"u":0},{"y":-40,"z":3.75,"u":0},{"y":-35,"z":3.75,"u":0},{"y":-25,"z":3.75,"u":0},{"y":-18,"z":3.75,"u":0},{"y":-13,"z":3.75,"u":0.04},{"y":-10,"z":3.75,"u":0.15},{"y":-7,"z":3.75,"u":0.5},{"y":-4,"z":3.75,"u":1},{"y":-2,"z":3.75,"u":1.1},{"y":0,"z":3.75,"u":0.98},{"y":2,"z":3.75,"u":0.85},{"y":4,"z":3.75,"u":0.8},{"y":6,"z":3.75,"u":0.75},{"y":8,"z":3.75,"u":0.68},{"y":10,"z":3.75,"u":0.4},{"y":13,"z":3.75,"u":0.18},{"y":16,"z":3.75,"u":0.08},{"y":18,"z":3.75,"u":0.05},{"y":20,"z":3.75,"u":0.04},{"y":25,"z":3.75,"u":0.02},{"y":30,"z":3.75,"u":0.01},{"y":36,"z":3.75,"u":0.01},{"y":44,"z":3.75,"u":0},{"y":60,"z":3.75,"u":0},
{"y":-80.7,"z":1.25,"u":0},{"y":-65,"z":1.25,"u":0},{"y":-60,"z":1.25,"u":0},{"y":-55,"z":1.25,"u":0},{"y":-50,"z":1.25,"u":0},{"y":-45,"z":1.25,"u":0},{"y":-40,"z":1.25,"u":0},{"y":-35,"z":1.25,"u":0},{"y":-25,"z":1.25,"u":0},{"y":-18,"z":1.25,"u":0},{"y":-13,"z":1.25,"u":0.01},{"y":-10,"z":1.25,"u":0.05},{"y":-7,"z":1.25,"u":0.15},{"y":-4,"z":1.25,"u":0.25},{"y":-2,"z":1.25,"u":0.31},{"y":0,"z":1.25,"u":0.37},{"y":2,"z":1.25,"u":0.42},{"y":4,"z":1.25,"u":0.48},{"y":6,"z":1.25,"u":0.55},{"y":8,"z":1.25,"u":0.42},{"y":10,"z":1.25,"u":0.17},{"y":13,"z":1.25,"u":0.08},{"y":16,"z":1.25,"u":0.04},{"y":18,"z":1.25,"u":0.03},{"y":20,"z":1.25,"u":0.03},{"y":25,"z":1.25,"u":0.02},{"y":30,"z":1.25,"u":0.02},{"y":36,"z":1.25,"u":0.01},{"y":44,"z":1.25,"u":0.01},{"y":60,"z":1.25,"u":0.01},
{"y":-80.7,"z":0,"u":0},{"y":-65,"z":0,"u":0},{"y":-60,"z":0,"u":0},{"y":-55,"z":0,"u":0},{"y":-50,"z":0,"u":0},{"y":-45,"z":0,"u":0},{"y":-40,"z":0,"u":0},{"y":-35,"z":0,"u":0},{"y":-25,"z":0,"u":0},{"y":-18,"z":0,"u":0},{"y":-13,"z":0,"u":0.01},{"y":-10,"z":0,"u":0.04},{"y":-7,"z":0,"u":0.13},{"y":-4,"z":0,"u":0.24},{"y":-2,"z":0,"u":0.3},{"y":0,"z":0,"u":0.35},{"y":2,"z":0,"u":0.41},{"y":4,"z":0,"u":0.47},{"y":6,"z":0,"u":0.55},{"y":8,"z":0,"u":0.45},{"y":10,"z":0,"u":0.18},{"y":13,"z":0,"u":0.08},{"y":16,"z":0,"u":0.04},{"y":18,"z":0,"u":0.03},{"y":20,"z":0,"u":0.03},{"y":25,"z":0,"u":0.02},{"y":30,"z":0,"u":0.02},{"y":36,"z":0,"u":0.01},{"y":44,"z":0,"u":0.01},{"y":60,"z":0,"u":0.01}
],
"bar":[{"v":0},{"v":0.05},{"v":0.1},{"v":0.15},{"v":0.2},{"v":0.25},{"v":0.3},{"v":0.35},{"v":0.4},{"v":0.45},{"v":0.5},{"v":0.55},{"v":0.6},{"v":0.65},{"v":0.7},{"v":0.75},{"v":0.8},{"v":0.85},{"v":0.9},{"v":0.95},{"v":1},{"v":1.05},{"v":1.1},{"v":1.15},{"v":1.2},{"v":1.25},{"v":1.3},{"v":1.35},{"v":1.4},{"v":1.45},{"v":1.5},{"v":1.55},{"v":1.6},{"v":1.65},{"v":1.7},{"v":1.75},{"v":1.8},{"v":1.85},{"v":1.9},{"v":1.95},{"v":2},{"v":2.05},{"v":2.1},{"v":2.15},{"v":2.2},{"v":2.25},{"v":2.3},{"v":2.35},{"v":2.4},{"v":2.45},{"v":2.5},{"v":2.55},{"v":2.6},{"v":2.65},{"v":2.7},{"v":2.75},{"v":2.8},{"v":2.85},{"v":2.9},{"v":2.95}],
"barticks":[{"v":0.5,"t":"0.5"},{"v":1,"t":"1"},{"v":1.5,"t":"1.5"},{"v":2,"t":"2"},{"v":2.5,"t":"2.5"}]
},
"encoding":{"x":{"field":"X","type":"quantitative","scale":{"domain":[0,2520],"nice":false,"zero":false},"axis":null},"y":{"field":"Y","type":"quantitative","scale":{"domain":[1340,0],"nice":false,"zero":false},"axis":null}},
"layer":[
{"data":{"name":"frame"},"transform":[
{"calculate":"357+7.33*(datum.y+100)+6.765*datum.z","as":"X"},{"calculate":"992+1.41*(datum.y+100)-3.92*datum.z-(datum.u+1.5)*173.5","as":"Y"},
{"calculate":"357+7.33*(datum.y2+100)+6.765*datum.z2","as":"X2"},{"calculate":"992+1.41*(datum.y2+100)-3.92*datum.z2-(datum.u2+1.5)*173.5","as":"Y2"}],
"mark":{"type":"rule","stroke":"#000","strokeWidth":5,"strokeCap":"square"},"encoding":{"x2":{"field":"X2"},"y2":{"field":"Y2"}}},
{"data":{"name":"surface"},"transform":[
{"window":[{"op":"lead","field":"y","as":"yn"},{"op":"lead","field":"u","as":"un"}],"groupby":["z"],"sort":[{"field":"y","order":"ascending"}]},
{"window":[{"op":"lead","field":"z","as":"zn"},{"op":"lead","field":"u","as":"uz"},{"op":"lead","field":"un","as":"uzn"}],"groupby":["y"],"sort":[{"field":"z","order":"ascending"}]},
{"filter":"datum.yn!=null&&datum.zn!=null"},
{"calculate":"[0,1]","as":"tri"},{"flatten":["tri"]},
{"calculate":"datum.tri==0?(datum.u+datum.uzn+datum.uz)/3:(datum.u+datum.un+datum.uzn)/3","as":"avg"},
{"calculate":"datum.tri==0?max(datum.u,datum.uzn,datum.uz):max(datum.u,datum.un,datum.uzn)","as":"top"},
{"calculate":"0.5*datum.avg+0.5*datum.top","as":"c"},
{"calculate":"datum.z+'_'+datum.y+'_'+datum.tri","as":"cell"},
{"calculate":"[0,1,2,3]","as":"k"},{"flatten":["k"]},
{"calculate":"datum.tri==0?(datum.k==1?datum.yn:datum.y):(datum.k==1||datum.k==2?datum.yn:datum.y)","as":"vy"},
{"calculate":"datum.tri==0?(datum.k==1||datum.k==2?datum.zn:datum.z):(datum.k==2?datum.zn:datum.z)","as":"vz"},
{"calculate":"datum.tri==0?(datum.k==1?datum.uzn:datum.k==2?datum.uz:datum.u):(datum.k==1?datum.un:datum.k==2?datum.uzn:datum.u)","as":"vu"},
{"calculate":"357+7.33*(datum.vy+100)+6.765*datum.vz","as":"X"},{"calculate":"992+1.41*(datum.vy+100)-3.92*datum.vz-(datum.vu+1.5)*173.5","as":"Y"}],
"mark":{"type":"line","strokeWidth":1.2,"interpolate":"linear"},
"encoding":{"detail":{"field":"cell"},"order":{"field":"k","type":"quantitative"},
"fill":{"field":"c","type":"quantitative","legend":null,"scale":{"interpolate":"rgb","domain":[0,0.1,0.2,0.3,0.4,0.5,0.6,0.75,0.9,1.05,1.2,1.35,1.5,1.8,2.1,2.4,2.7,3],"range":["#000000","#2e0035","#420068","#510096","#5d00bd","#6801dd","#7202f2","#8004ff","#8c07f2","#970bce","#a11096","#ab174f","#b42000","#c63700","#d55700","#e48300","#f2ba00","#ffff00"]}},
"stroke":{"field":"c","type":"quantitative","legend":null,"scale":{"interpolate":"rgb","domain":[0,0.1,0.2,0.3,0.4,0.5,0.6,0.75,0.9,1.05,1.2,1.35,1.5,1.8,2.1,2.4,2.7,3],"range":["#000000","#2e0035","#420068","#510096","#5d00bd","#6801dd","#7202f2","#8004ff","#8c07f2","#970bce","#a11096","#ab174f","#b42000","#c63700","#d55700","#e48300","#f2ba00","#ffff00"]}}}},
{"data":{"values":[{"y":-100,"t":"-100"},{"y":-80,"t":"-80"},{"y":-60,"t":"-60"},{"y":-40,"t":"-40"},{"y":-20,"t":"-20"},{"y":0,"t":"0"},{"y":20,"t":"20"},{"y":40,"t":"40"},{"y":60,"t":"60"}]},"transform":[
{"calculate":"357+7.33*(datum.y+100)+(datum.y<0?-23:-12)","as":"X"},{"calculate":"992+1.41*(datum.y+100)+52","as":"Y"}],
"mark":{"type":"text","font":"Liberation Sans","fontSize":69,"align":"center","baseline":"middle","fill":"#000"},"encoding":{"text":{"field":"t"}}},
{"data":{"values":[{"z":0,"t":"0"},{"z":20,"t":"20"},{"z":40,"t":"40"},{"z":60,"t":"60"},{"z":80,"t":"80"},{"z":100,"t":"100"}]},"transform":[
{"calculate":"1530+6.765*datum.z+90","as":"X"},{"calculate":"1217-3.92*datum.z+4","as":"Y"}],
"mark":{"type":"text","font":"Liberation Sans","fontSize":69,"align":"center","baseline":"middle","fill":"#000"},"encoding":{"text":{"field":"t"}}},
{"data":{"values":[{"u":0,"t":"0"},{"u":0.5,"t":"0.5"},{"u":1,"t":"1"},{"u":1.5,"t":"1.5"},{"u":2,"t":"2"},{"u":2.5,"t":"2.5"},{"u":3,"t":"3"}]},"transform":[
{"calculate":"357-47","as":"X"},{"calculate":"992-(datum.u+1.5)*173.5-6","as":"Y"}],
"mark":{"type":"text","font":"Liberation Sans","fontSize":69,"align":"right","baseline":"middle","fill":"#000"},"encoding":{"text":{"field":"t"}}},
{"data":{"values":[{"y":-140.4,"z":0,"u":1.53,"t":"|u|"},{"y":-43,"z":0,"u":-2.43,"t":"y"},{"y":60,"z":93.3,"u":-2.77,"t":"z"}]},"transform":[
{"calculate":"357+7.33*(datum.y+100)+6.765*datum.z","as":"X"},{"calculate":"992+1.41*(datum.y+100)-3.92*datum.z-(datum.u+1.5)*173.5","as":"Y"}],
"mark":{"type":"text","font":"Liberation Sans","fontSize":80,"align":"center","baseline":"middle","fill":"#000"},"encoding":{"text":{"field":"t"}}},
{"data":{"name":"bar"},"transform":[{"calculate":"2243","as":"X"},{"calculate":"2338","as":"X2"},{"calculate":"652-datum.v/3*583","as":"Y"},{"calculate":"652-(datum.v+0.05)/3*583","as":"Y2"},{"calculate":"datum.v+0.025","as":"c"}],
"mark":{"type":"rect","opacity":0.72},"encoding":{"x2":{"field":"X2"},"y2":{"field":"Y2"},"fill":{"field":"c","type":"quantitative","legend":null,"scale":{"interpolate":"rgb","domain":[0,0.1,0.2,0.3,0.4,0.5,0.6,0.75,0.9,1.05,1.2,1.35,1.5,1.8,2.1,2.4,2.7,3],"range":["#000000","#2e0035","#420068","#510096","#5d00bd","#6801dd","#7202f2","#8004ff","#8c07f2","#970bce","#a11096","#ab174f","#b42000","#c63700","#d55700","#e48300","#f2ba00","#ffff00"]}}}},
{"data":{"values":[{"lo":0,"hi":3}]},"transform":[{"calculate":"2243","as":"X"},{"calculate":"2338","as":"X2"},{"calculate":"652-datum.lo/3*583","as":"Y"},{"calculate":"652-datum.hi/3*583","as":"Y2"}],
"mark":{"type":"rect","fill":null,"stroke":"#000","strokeWidth":5},"encoding":{"x2":{"field":"X2"},"y2":{"field":"Y2"}}},
{"data":{"name":"barticks"},"transform":[{"calculate":"2243","as":"X"},{"calculate":"2267","as":"X2"},{"calculate":"652-datum.v/3*583","as":"Y"}],
"mark":{"type":"rule","stroke":"#000","strokeWidth":5},"encoding":{"x2":{"field":"X2"}}},
{"data":{"name":"barticks"},"transform":[{"calculate":"2314","as":"X"},{"calculate":"2338","as":"X2"},{"calculate":"652-datum.v/3*583","as":"Y"}],
"mark":{"type":"rule","stroke":"#000","strokeWidth":5},"encoding":{"x2":{"field":"X2"}}},
{"data":{"values":[{"v":0,"t":"0"},{"v":0.5,"t":"0.5"},{"v":1,"t":"1"},{"v":1.5,"t":"1.5"},{"v":2,"t":"2"},{"v":2.5,"t":"2.5"},{"v":3,"t":"3"}]},"transform":[{"calculate":"2388","as":"X"},{"calculate":"652-datum.v/3*583-5","as":"Y"}],
"mark":{"type":"text","font":"Liberation Sans","fontSize":69,"align":"left","baseline":"middle","fill":"#000"},"encoding":{"text":{"field":"t"}}}
]}
